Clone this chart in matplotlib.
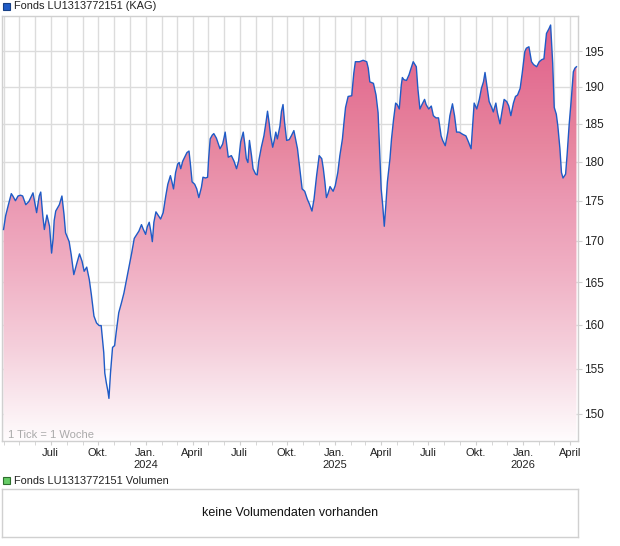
import numpy as np
import pandas as pd
import matplotlib
matplotlib.use("Agg")
import matplotlib.pyplot as plt
import matplotlib.dates as mdates
from matplotlib.ticker import FixedLocator, FixedFormatter, NullLocator
from matplotlib.colors import LinearSegmentedColormap
from matplotlib.patches import Rectangle

plt.rcParams['font.family'] = ['Liberation Sans', 'DejaVu Sans']

# Fondskurs, Datum / Preis
dates = [
    "2023-04-01", "2023-04-05", "2023-04-10", "2023-04-16", "2023-04-19", "2023-04-24", "2023-04-29",
    "2023-05-04", "2023-05-08", "2023-05-14", "2023-05-20", "2023-05-28", "2023-06-04", "2023-06-09",
    "2023-06-12", "2023-06-16", "2023-06-19", "2023-06-24", "2023-06-29", "2023-07-03", "2023-07-06",
    "2023-07-08", "2023-07-11", "2023-07-18", "2023-07-23", "2023-07-27", "2023-07-30", "2023-08-06",
    "2023-08-10", "2023-08-15", "2023-08-21", "2023-08-26", "2023-08-31", "2023-09-04", "2023-09-09",
    "2023-09-14", "2023-09-18", "2023-09-23", "2023-09-28", "2023-10-03", "2023-10-07", "2023-10-12",
    "2023-10-14", "2023-10-17", "2023-10-20", "2023-10-22", "2023-10-25", "2023-10-29", "2023-11-02",
    "2023-11-05", "2023-11-10", "2023-11-15", "2023-11-20", "2023-11-25", "2023-11-30", "2023-12-05",
    "2023-12-10", "2023-12-15", "2023-12-19", "2023-12-24", "2023-12-27",
    "2024-01-01", "2024-01-04", "2024-01-08", "2024-01-11", "2024-01-14", "2024-01-17", "2024-01-21",
    "2024-01-25", "2024-01-30", "2024-02-04", "2024-02-09", "2024-02-13", "2024-02-18", "2024-02-21",
    "2024-02-24", "2024-02-28", "2024-03-03", "2024-03-06", "2024-03-09", "2024-03-13", "2024-03-18",
    "2024-03-21", "2024-03-25", "2024-03-28", "2024-03-31", "2024-04-05", "2024-04-09", "2024-04-13",
    "2024-04-18", "2024-04-21", "2024-04-26", "2024-04-30", "2024-05-02", "2024-05-05", "2024-05-09",
    "2024-05-12", "2024-05-17", "2024-05-21", "2024-05-24", "2024-05-29", "2024-06-01", "2024-06-03",
    "2024-06-06", "2024-06-09", "2024-06-15", "2024-06-20", "2024-06-25", "2024-06-29", "2024-07-03",
    "2024-07-08", "2024-07-11", "2024-07-14", "2024-07-17", "2024-07-20", "2024-07-24", "2024-07-27",
    "2024-08-01", "2024-08-04", "2024-08-07", "2024-08-12", "2024-08-17", "2024-08-21", "2024-08-24",
    "2024-08-27", "2024-08-30", "2024-09-03", "2024-09-06", "2024-09-09", "2024-09-12", "2024-09-17",
    "2024-09-20", "2024-09-23", "2024-09-26", "2024-09-30", "2024-10-05", "2024-10-09", "2024-10-14",
    "2024-10-16", "2024-10-21", "2024-10-24", "2024-10-27", "2024-10-30", "2024-11-04", "2024-11-09",
    "2024-11-13", "2024-11-18", "2024-11-22", "2024-11-27", "2024-12-02", "2024-12-07", "2024-12-10",
    "2024-12-13", "2024-12-16", "2024-12-19", "2024-12-23", "2024-12-26", "2024-12-29",
    "2025-01-02", "2025-01-07", "2025-01-11", "2025-01-16", "2025-01-19", "2025-01-22", "2025-01-27",
    "2025-02-03", "2025-02-07", "2025-02-10", "2025-02-18", "2025-02-25", "2025-03-04", "2025-03-07",
    "2025-03-10", "2025-03-17", "2025-03-22", "2025-03-26", "2025-03-28", "2025-03-30", "2025-04-01",
    "2025-04-04", "2025-04-07", "2025-04-10", "2025-04-13", "2025-04-18", "2025-04-21", "2025-04-25",
    "2025-04-29", "2025-05-02", "2025-05-06", "2025-05-10", "2025-05-12", "2025-05-15", "2025-05-20",
    "2025-05-25", "2025-05-28", "2025-06-02", "2025-06-08", "2025-06-11", "2025-06-15", "2025-06-19",
    "2025-06-24", "2025-06-27", "2025-07-02", "2025-07-07", "2025-07-11", "2025-07-16", "2025-07-21",
    "2025-07-26", "2025-07-29", "2025-08-03", "2025-08-08", "2025-08-12", "2025-08-17", "2025-08-21",
    "2025-08-25", "2025-08-30", "2025-09-06", "2025-09-12", "2025-09-17", "2025-09-22", "2025-09-25",
    "2025-09-28", "2025-10-03", "2025-10-08", "2025-10-12", "2025-10-16", "2025-10-19", "2025-10-23",
    "2025-10-27", "2025-11-01", "2025-11-04", "2025-11-09", "2025-11-12", "2025-11-17", "2025-11-21",
    "2025-11-25", "2025-11-30", "2025-12-04", "2025-12-08", "2025-12-13", "2025-12-17", "2025-12-21",
    "2025-12-26", "2025-12-30",
    "2026-01-04", "2026-01-07", "2026-01-12", "2026-01-17", "2026-01-21", "2026-01-27", "2026-02-01",
    "2026-02-06", "2026-02-10", "2026-02-15", "2026-02-20", "2026-02-23", "2026-02-27", "2026-03-02",
    "2026-03-06", "2026-03-09", "2026-03-13", "2026-03-16", "2026-03-19", "2026-03-24", "2026-03-27",
    "2026-03-31", "2026-04-04", "2026-04-08", "2026-04-11", "2026-04-14",
]
prices = [
    171.4, 173.1, 174.4, 175.9, 175.6, 175.0, 175.6,
    175.7, 175.6, 174.5, 174.9, 176.0, 173.5, 175.6,
    176.1, 173.1, 171.4, 173.2, 171.8, 168.5, 170.3,
    172.5, 173.7, 174.5, 175.6, 173.3, 171.0, 169.9,
    168.3, 165.9, 167.3, 168.4, 167.5, 166.3, 166.8,
    165.3, 163.5, 161.0, 160.2, 159.9, 159.9, 156.8,
    154.5, 153.4, 152.5, 151.7, 154.5, 157.4, 157.6,
    159.1, 161.4, 162.5, 163.7, 165.3, 166.9, 168.5,
    170.3, 170.8, 171.2, 172.0, 171.5,
    170.8, 171.7, 172.3, 171.2, 169.9, 172.3, 173.6,
    173.2, 172.7, 173.5, 175.6, 177.1, 178.2, 177.4,
    176.5, 178.6, 179.7, 179.9, 179.1, 180.1, 180.8,
    181.2, 181.4, 179.5, 177.4, 177.1, 176.5, 175.4,
    176.7, 178.0, 177.9, 178.0, 180.4, 183.0, 183.5,
    183.7, 183.1, 182.3, 181.7, 182.3, 183.2, 183.9,
    182.3, 180.6, 180.8, 180.1, 179.1, 180.1, 182.6,
    183.9, 182.3, 180.4, 179.9, 182.8, 180.8, 179.1,
    178.4, 178.3, 180.1, 181.9, 183.4, 185.2, 186.7,
    185.2, 183.4, 181.9, 182.8, 183.9, 183.0, 184.7,
    186.7, 187.6, 185.2, 182.8, 182.9, 183.4, 184.1,
    183.4, 181.7, 179.9, 178.2, 176.5, 176.2, 175.2,
    174.6, 173.7, 175.2, 178.2, 180.8, 180.4, 179.1,
    177.4, 175.4, 175.9, 176.8, 176.5, 176.2,
    176.9, 178.6, 180.8, 183.0, 185.2, 187.2, 188.7,
    188.8, 191.9, 193.5, 193.5, 193.7, 193.5, 192.6,
    190.7, 190.5, 188.9, 186.5, 183.0, 179.9, 176.5,
    174.4, 171.8, 174.4, 177.4, 180.4, 183.0, 185.6,
    187.8, 187.6, 187.0, 190.3, 191.3, 191.0, 190.9,
    191.7, 192.4, 193.5, 192.8, 189.8, 187.0, 187.6,
    188.3, 187.6, 187.0, 187.4, 186.1, 185.8, 185.8,
    183.4, 182.8, 182.1, 183.9, 186.1, 187.7, 186.1,
    183.9, 183.9, 183.6, 183.4, 182.6, 181.7, 184.7,
    187.8, 187.0, 188.3, 189.8, 190.7, 192.0, 190.0,
    188.0, 187.2, 186.6, 187.8, 186.5, 185.0, 186.7,
    188.3, 188.0, 187.4, 186.1, 187.8, 188.7, 188.9,
    189.8, 191.9,
    194.9, 195.4, 195.6, 193.5, 193.1, 192.8, 193.5,
    193.8, 193.9, 197.5, 198.2, 198.7, 193.3, 187.2,
    186.3, 184.7, 181.7, 178.6, 177.9, 178.4, 181.0,
    185.0, 188.3, 192.1, 192.6, 192.8,
]

y_ticks = [150, 155, 160, 165, 170, 175, 180, 185, 190, 195]
x_tick_dates = ["2023-07-01", "2023-10-01", "2024-01-01", "2024-04-01", "2024-07-01", "2024-10-01",
                "2025-01-01", "2025-04-01", "2025-07-01", "2025-10-01", "2026-01-01", "2026-04-01"]
x_tick_labels = ["Juli", "Okt.", "Jan.\n2024", "April", "Juli", "Okt.",
                 "Jan.\n2025", "April", "Juli", "Okt.", "Jan.\n2026", "April"]
title = "Fonds LU1313772151 (KAG)"
vol_title = "Fonds LU1313772151 Volumen"
no_vol = "keine Volumendaten vorhanden"

W, H = 620, 546
grid_col = "#dcdcdc"
line_col = "#1f5bc6"

fig = plt.figure(figsize=(W / 100, H / 100), dpi=100)
ax = fig.add_axes([2 / W, (H - 441) / H, 576 / W, 425 / H])

x = pd.to_datetime(dates)
ax.set_yscale("log")
x0, x1 = pd.Timestamp("2023-03-29"), pd.Timestamp("2026-04-17")
y0, y1 = 147.1, 200
ax.set_xlim(x0, x1)
ax.set_ylim(y0, y1)

# rosa Verlauf unter der Kurve (unten weiss, oben kraeftig)
cmap = LinearSegmentedColormap.from_list("rosa", [
    (0.0, "#fffcfd"), (0.1, "#fae8ee"), (0.22, "#f5cfdb"), (0.4, "#f0b0c4"),
    (0.57, "#eb98b2"), (0.7, "#e7869f"), (1.0, "#e05c88")])
grad = np.linspace(0, 1, 256)[:, None]
im = ax.imshow(grad, cmap=cmap, aspect="auto", extent=[0, 1, 0, 1],
               transform=ax.transAxes, origin="lower", zorder=1, interpolation="bilinear")
poly = ax.fill_between(x, prices, 100, facecolor="none", edgecolor="none")
im.set_clip_path(poly.get_paths()[0], poly.get_transform())

ax.plot(x, prices, color=line_col, lw=1.0, zorder=3)

# Achsen
ax.xaxis.set_major_locator(FixedLocator(mdates.date2num(pd.to_datetime(x_tick_dates))))
ax.xaxis.set_major_formatter(FixedFormatter(x_tick_labels))
ax.xaxis.set_minor_locator(mdates.MonthLocator())
ax.yaxis.set_major_locator(FixedLocator(y_ticks))
ax.yaxis.set_major_formatter(FixedFormatter([str(v) for v in y_ticks]))
ax.yaxis.set_minor_locator(NullLocator())
ax.yaxis.tick_right()

ax.grid(True, which="both", axis="x", color=grid_col, lw=1, zorder=0)
ax.grid(True, which="major", axis="y", color=grid_col, lw=1, zorder=0)
ax.set_axisbelow(True)

ax.tick_params(axis="x", which="both", length=3, color="#d0d0d0", pad=2,
               labelsize=8, labelcolor="#222222")
ax.tick_params(axis="y", which="major", length=3, color="#d0d0d0", pad=1.5,
               labelsize=8.5, labelcolor="#222222")
for s in ax.spines.values():
    s.set_color("#d0d0d0")
    s.set_linewidth(1)

ax.text(6 / 576, 6 / 425, "1 Tick = 1 Woche", transform=ax.transAxes,
        fontsize=8, color="#aaaaaa", va="center", ha="left")
ax.set_xlim(x0, x1)
ax.set_ylim(y0, y1)

# Legenden oben
fig.patches.append(Rectangle((3 / W, 1 - 9.5 / H), 7 / W, 7 / H, transform=fig.transFigure,
                             facecolor=line_col, edgecolor="#163f85", lw=0.8))
fig.text(14 / W, 1 - 6 / H, title, fontsize=7.9, color="#222222", va="center", ha="left")

fig.patches.append(Rectangle((3 / W, 1 - 484 / H), 7 / W, 7 / H, transform=fig.transFigure,
                             facecolor="#66cc66", edgecolor="#2e6e2e", lw=0.8))
fig.text(14 / W, 1 - 480.5 / H, vol_title, fontsize=7.9, color="#222222", va="center", ha="left")

# Volumen-Feld
axv = fig.add_axes([2 / W, (H - 537) / H, 576 / W, 48 / H])
axv.set_xticks([])
axv.set_yticks([])
for s in axv.spines.values():
    s.set_color("#d0d0d0")
    s.set_linewidth(1)
axv.text(0.5, 0.5, no_vol, transform=axv.transAxes, ha="center", va="center",
         fontsize=9, color="#111111")

fig.savefig("out.png", dpi=100)
